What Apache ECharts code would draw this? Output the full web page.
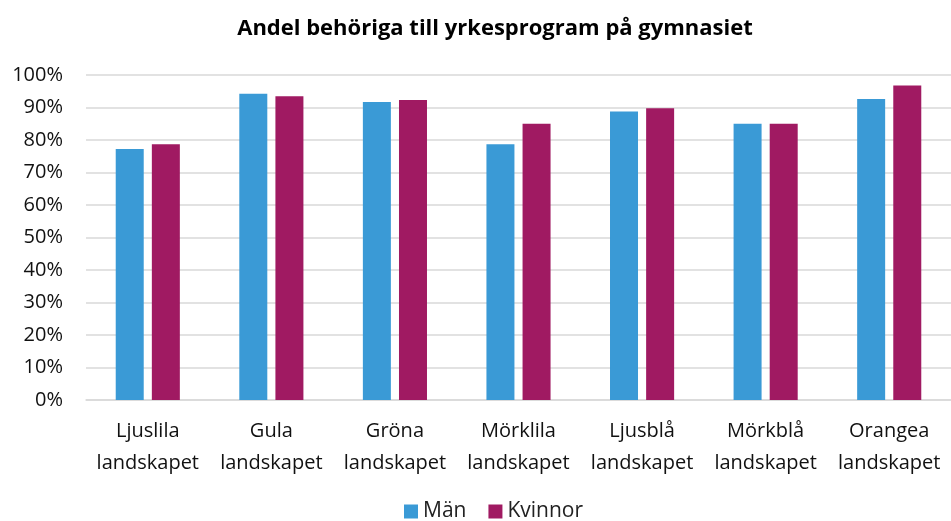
<!DOCTYPE html>
<html>
<head>
<meta charset="utf-8">
<script src="https://cdn.jsdelivr.net/npm/echarts@6/dist/echarts.min.js"></script>
<style>
  html, body { margin: 0; padding: 0; background: #fff; }
  #chart { width: 951px; height: 521px; }
</style>
</head>
<body>
<div id="chart"></div>
<script>
const categories = [
  'Ljuslila\nlandskapet',
  'Gula\nlandskapet',
  'Gröna\nlandskapet',
  'Mörklila\nlandskapet',
  'Ljusblå\nlandskapet',
  'Mörkblå\nlandskapet',
  'Orangea\nlandskapet'
];
const man = [77.2, 94.2, 91.7, 78.7, 88.8, 85.0, 92.6];
const kvinnor = [78.7, 93.5, 92.3, 85.0, 89.8, 85.0, 96.8];

const font = '"Open Sans", "Noto Sans", sans-serif';

const chart = echarts.init(document.getElementById('chart'));

chart.setOption({
  animation: false,
  title: {
    text: 'Andel behöriga till yrkesprogram på gymnasiet',
    left: 490,
    textAlign: 'center',
    top: 13,
    textStyle: { fontFamily: font, fontSize: 22, fontWeight: 'bold', color: '#000' }
  },
  legend: {
    data: ['Män', 'Kvinnor'],
    bottom: -6,
    left: 399,
    itemWidth: 14,
    itemHeight: 14,
    itemGap: 22,
    icon: 'rect',
    textStyle: { fontFamily: font, fontSize: 21, color: '#222' }
  },
  grid: { left: 86, right: -3, top: 75, bottom: 121, containLabel: false },
  xAxis: {
    type: 'category',
    data: categories,
    axisLine: { lineStyle: { color: '#d9d9d9', width: 1.5 } },
    axisTick: { show: false },
    axisLabel: {
      fontFamily: font,
      fontSize: 20,
      color: '#111',
      lineHeight: 32,
      margin: 15,
      interval: 0
    }
  },
  yAxis: {
    type: 'value',
    min: 0,
    max: 100,
    interval: 10,
    axisLine: { show: false },
    axisTick: { show: false },
    splitLine: { lineStyle: { color: '#d9d9d9', width: 1.5 } },
    axisLabel: {
      fontFamily: font,
      fontSize: 20,
      color: '#111',
      margin: 23,
      formatter: '{value}%'
    }
  },
  series: [
    {
      name: 'Män',
      type: 'bar',
      data: man,
      barWidth: 28,
      barGap: '29%',
      itemStyle: { color: '#3A9AD6' }
    },
    {
      name: 'Kvinnor',
      type: 'bar',
      data: kvinnor,
      barWidth: 28,
      barGap: '29%',
      itemStyle: { color: '#A01A62' }
    }
  ]
});
</script>
</body>
</html>
